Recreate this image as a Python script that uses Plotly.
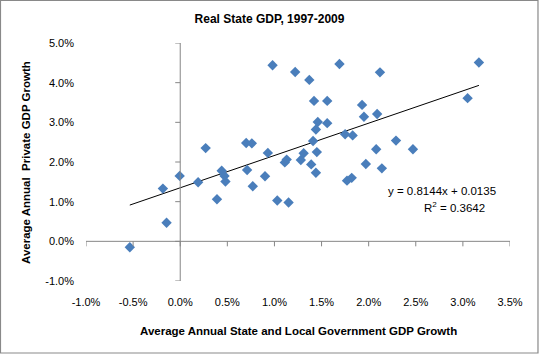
import plotly.graph_objects as go

# Data (percent)
state_local_growth = [-0.535, -0.145, -0.184, -0.006, 0.19, 0.27, 0.39, 0.44, 0.47, 0.48,
                      0.70, 0.76, 0.71, 0.77, 0.90, 0.93, 0.98, 1.03, 1.11, 1.13,
                      1.15, 1.22, 1.28, 1.31, 1.37, 1.41, 1.39, 1.45, 1.44, 1.42,
                      1.46, 1.44, 1.56, 1.56, 1.69, 1.75, 1.83, 1.77, 1.82, 1.93,
                      1.95, 1.97, 2.08, 2.09, 2.12, 2.14, 2.29, 2.47, 3.05, 3.17]
private_growth = [-0.15, 0.47, 1.33, 1.65, 1.49, 2.35, 1.06, 1.78, 1.65, 1.51,
                  2.48, 2.47, 1.80, 1.39, 1.64, 2.23, 4.44, 1.03, 1.99, 2.06,
                  0.98, 4.27, 2.05, 2.22, 4.07, 2.53, 1.94, 2.25, 1.73, 3.54,
                  3.01, 2.82, 3.54, 2.98, 4.47, 2.70, 2.67, 1.53, 1.60, 3.44,
                  3.14, 1.95, 2.32, 3.21, 4.26, 1.84, 2.54, 2.32, 3.61, 4.51]
slope = 0.8144
intercept = 0.0135
r_squared = 0.3642
x_ticks = [-1.0, -0.5, 0.0, 0.5, 1.0, 1.5, 2.0, 2.5, 3.0, 3.5]
y_ticks = [-1.0, 0.0, 1.0, 2.0, 3.0, 4.0, 5.0]
x_tick_labels = [f"{t:.1f}%" for t in x_ticks]
y_tick_labels = [f"{t:.1f}%" for t in y_ticks]

FONT = "Liberation Sans, Arial, sans-serif"
AXIS_COLOR = "#868686"

x_lo, x_hi = min(state_local_growth), max(state_local_growth)
trend_x = [x_lo, x_hi]
trend_y = [slope * v + intercept * 100 for v in trend_x]

fig = go.Figure()
fig.add_trace(go.Scatter(x=trend_x, y=trend_y, mode="lines",
                         line=dict(color="black", width=1), hoverinfo="skip"))
fig.add_trace(go.Scatter(x=state_local_growth, y=private_growth, mode="markers",
                         marker=dict(symbol="diamond", size=8, color="#4A7EBB",
                                     line=dict(width=0))))

shapes = []
# axis lines crossing at zero
shapes.append(dict(type="line", xref="x", yref="y", x0=x_ticks[0], x1=x_ticks[-1], y0=0, y1=0,
                   line=dict(color=AXIS_COLOR, width=1)))
shapes.append(dict(type="line", xref="x", yref="y", x0=0, x1=0, y0=y_ticks[0], y1=y_ticks[-1],
                   line=dict(color=AXIS_COLOR, width=1)))
for t in x_ticks:
    shapes.append(dict(type="line", xref="x", yref="y", ysizemode="pixel", yanchor=0,
                       x0=t, x1=t, y0=0, y1=-5, line=dict(color=AXIS_COLOR, width=1)))
for t in y_ticks:
    shapes.append(dict(type="line", xref="x", yref="y", xsizemode="pixel", xanchor=0,
                       x0=-5, x1=0, y0=t, y1=t, line=dict(color=AXIS_COLOR, width=1)))
# outer chart border
shapes.append(dict(type="rect", xref="paper", yref="paper", x0=-0.2017, x1=1.066,
                   y0=-0.3025, y1=1.1786, line=dict(color="#898989", width=1.2)))

fig.update_layout(
    width=539, height=354,
    margin=dict(l=86, r=29, t=43, b=73),
    paper_bgcolor="white", plot_bgcolor="white",
    showlegend=False,
    font=dict(family=FONT, size=11, color="black"),
    title=dict(text="<b>Real State GDP, 1997-2009</b>", x=0.5, xref="container",
               y=1 - 19 / 354, yref="container", yanchor="middle", xanchor="center",
               font=dict(size=12, family=FONT, color="black")),
    xaxis=dict(range=[x_ticks[0], x_ticks[-1]], tickvals=x_ticks, ticktext=x_tick_labels,
               showgrid=False, zeroline=False, showline=False,
               ticks="", ticklabelstandoff=13, tickfont=dict(size=11, color="black")),
    yaxis=dict(range=[y_ticks[0], y_ticks[-1]], tickvals=y_ticks, ticktext=y_tick_labels,
               showgrid=False, zeroline=False, showline=False,
               ticks="", ticklabelstandoff=11, tickfont=dict(size=11, color="black")),
    shapes=shapes,
    annotations=[
        dict(text="<b>Average Annual State and Local Government GDP Growth</b>",
             xref="paper", yref="paper", x=0.5, y=(281 - 330.5) / 238,
             xanchor="center", yanchor="middle", showarrow=False,
             font=dict(size=11.5, family=FONT, color="black")),
        dict(text="<b>Average Annual  Private GDP Growth</b>",
             xref="paper", yref="paper", x=(26 - 86) / 424, y=0.4958, textangle=-90,
             xanchor="center", yanchor="middle", showarrow=False,
             font=dict(size=11.5, family=FONT, color="black")),
        dict(text=f"y = {slope:.4f}x + {intercept:.4f}",
             xref="paper", yref="paper", x=(442 - 86) / 424, y=(281 - 191.3) / 238,
             xanchor="center", yanchor="middle", showarrow=False,
             font=dict(size=11.5, family=FONT, color="black")),
        dict(text=f"R<sup>2</sup> = {r_squared:.4f}",
             xref="paper", yref="paper", x=(454.5 - 86) / 424, y=(281 - 207) / 238,
             xanchor="center", yanchor="middle", showarrow=False,
             font=dict(size=11.5, family=FONT, color="black")),
    ],
)

fig.write_html("out.html")
